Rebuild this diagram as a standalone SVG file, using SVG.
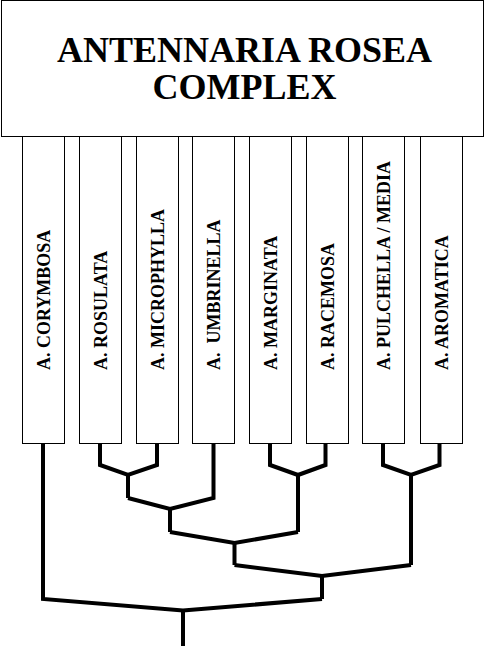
<svg xmlns="http://www.w3.org/2000/svg" width="488" height="646" viewBox="0 0 488 646">
<style>
.box{fill:#fff;stroke:#000;stroke-width:1}
.title{font-family:"Liberation Serif","Times New Roman",serif;font-weight:bold;font-size:36px;text-anchor:middle;fill:#000}
.leaf{font-family:"Liberation Serif","Times New Roman",serif;font-weight:bold;font-size:18px;fill:#000}
.br{fill:none;stroke:#000;stroke-width:4;stroke-linejoin:miter;stroke-linecap:butt}
</style>
<rect width="488" height="646" fill="#fff"/>
<g id="leaf1"><rect class="box" x="22.5" y="136.5" width="42" height="307"/><text class="leaf" transform="translate(49.5,370) rotate(-90)">A. CORYMBOSA</text></g>
<g id="leaf2"><rect class="box" x="79.5" y="136.5" width="42" height="307"/><text class="leaf" transform="translate(106.5,370) rotate(-90)">A. ROSULATA</text></g>
<g id="leaf3"><rect class="box" x="136.5" y="136.5" width="42" height="307"/><text class="leaf" transform="translate(163.5,370) rotate(-90)">A. MICROPHYLLA</text></g>
<g id="leaf4"><rect class="box" x="192.5" y="136.5" width="42" height="307"/><text class="leaf" transform="translate(219.5,370) rotate(-90)" xml:space="preserve">A.  UMBRINELLA</text></g>
<g id="leaf5"><rect class="box" x="249.5" y="136.5" width="42" height="307"/><text class="leaf" transform="translate(276.5,370) rotate(-90)">A. MARGINATA</text></g>
<g id="leaf6"><rect class="box" x="306.5" y="136.5" width="42" height="307"/><text class="leaf" transform="translate(333.5,370) rotate(-90)">A. RACEMOSA</text></g>
<g id="leaf7"><rect class="box" x="362.5" y="136.5" width="42" height="307"/><text class="leaf" transform="translate(389.5,370) rotate(-90)">A. PULCHELLA / MEDIA</text></g>
<g id="leaf8"><rect class="box" x="420.5" y="136.5" width="42" height="307"/><text class="leaf" transform="translate(447.5,370) rotate(-90)">A. AROMATICA</text></g>
<g id="title"><rect class="box" x="1.5" y="0.5" width="482" height="136"/><text class="title" x="244.5" y="62">ANTENNARIA ROSEA</text><text class="title" x="244.5" y="99">COMPLEX</text></g>
<g id="connectors">
<polyline class="br" points="100,443.5 100,465 128,475 157,465 157,443.5"/>
<polyline class="br" points="128,475 128,498"/>
<polyline class="br" points="128,498 170,509 213.5,498 213.5,443.5"/>
<polyline class="br" points="170,509 170,532"/>
<polyline class="br" points="270,443.5 270,465 298,475 325.5,465 325.5,443.5"/>
<polyline class="br" points="298,475 298,532"/>
<polyline class="br" points="170,532 234.5,543 298,532"/>
<polyline class="br" points="234.5,543 234.5,565"/>
<polyline class="br" points="383,443.5 383,465 411,475 439.5,465 439.5,443.5"/>
<polyline class="br" points="411,475 411,565"/>
<polyline class="br" points="234.5,565 322,576 411,565"/>
<polyline class="br" points="322,576 322,599"/>
<polyline class="br" points="43,443.5 43,599 183,610.5 322,599"/>
<polyline class="br" points="183,610.5 183,646"/>
</g>
</svg>
